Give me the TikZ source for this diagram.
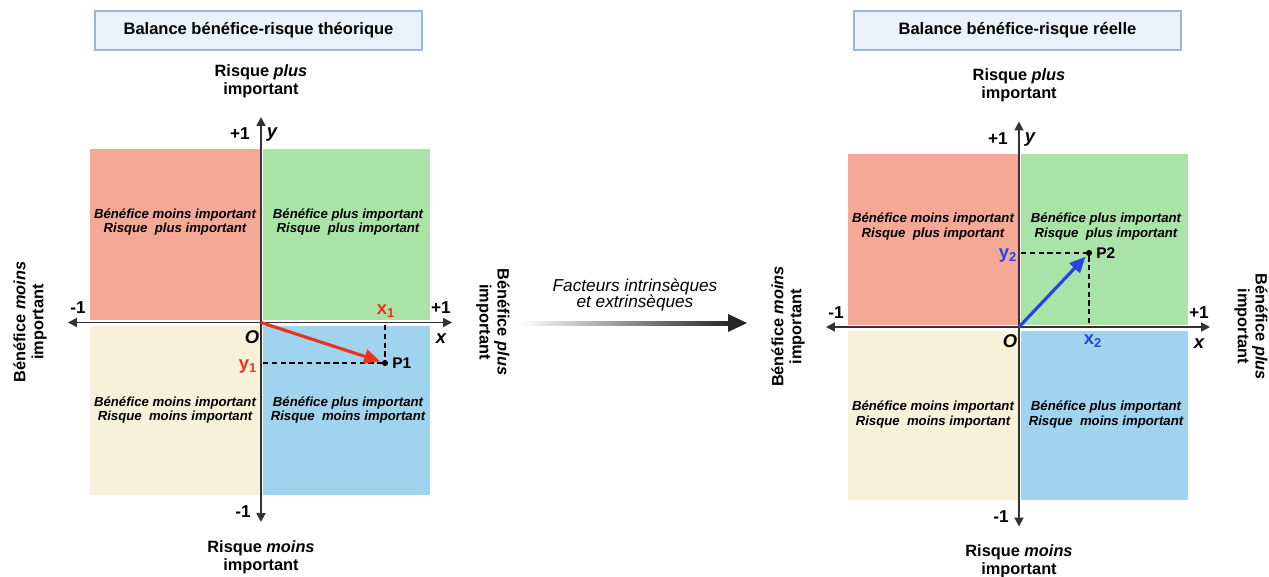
\documentclass[tikz,border=0pt]{standalone}
\usepackage{fontspec}
\setmainfont{Liberation Sans}
\usetikzlibrary{arrows.meta}
\usetikzlibrary{positioning}

\definecolor{titlefill}{HTML}{EAF2FC}
\definecolor{titleline}{HTML}{9FB4DC}
\definecolor{qred}{HTML}{F4A895}
\definecolor{qgreen}{HTML}{A9E3A8}
\definecolor{qcream}{HTML}{F8F1DA}
\definecolor{qblue}{HTML}{9FD3EE}
\definecolor{axisgrey}{HTML}{333333}
\definecolor{vecred}{HTML}{E8341C}
\definecolor{vecblue}{HTML}{2544E8}

\begin{document}
\begin{tikzpicture}[x=0.02cm,y=-0.02cm,
    titlebox/.style={draw=titleline,fill=titlefill,thick,minimum width=6.54cm,minimum height=0.78cm,
                     font=\bfseries\fontsize{9.4}{10}\selectfont},
    sidelabel/.style={align=center,font=\bfseries\fontsize{9.3}{10.2}\selectfont},
    quadtext/.style={align=center,font=\bfseries\itshape\fontsize{7.5}{8}\selectfont},
    num/.style={font=\bfseries\fontsize{9.8}{10}\selectfont,inner sep=0pt},
    axlabel/.style={font=\bfseries\itshape\fontsize{10.5}{11}\selectfont,inner sep=0pt},
    axis/.style={axisgrey,line width=1.1pt,{Triangle[length=5pt,width=5pt]}-{Triangle[length=5pt,width=5pt]}},
    guide/.style={black,densely dashed,line width=0.6pt},
    vec/.style={line width=1.8pt,-{Triangle[length=9pt,width=8pt]},shorten >=1pt},
    dot/.style={circle,fill=black,inner sep=0pt,minimum size=3.5pt},
    ptlabel/.style={font=\bfseries\fontsize{8.8}{9}\selectfont,inner sep=1pt},
    coordlabel/.style={font=\bfseries\fontsize{10.5}{11}\selectfont,inner sep=0pt}]
\useasboundingbox (0,0) rectangle (1269,576);

% titles
\node[titlebox] (titleL) at (258.5,30.5) {Balance bénéfice-risque théorique};
\node[titlebox] (titleR) at (1017.5,30.5) {Balance bénéfice-risque réelle};

% the two panels
\foreach \p/\dx/\dy in {L/0/0, R/758/4.5} {
\begin{scope}[shift={(\dx,\dy)}]
    \fill[qred] (90,149) rectangle (260,320);
    \fill[qgreen] (263,149) rectangle (430,320);
    \fill[qcream] (90,326) rectangle (260,495);
    \fill[qblue] (263,326) rectangle (430,495);

    \node[quadtext] (qa\p) at (175,222) {Bénéfice moins important\\Risque\ \ plus important};
    \node[quadtext] (qb\p) at (348,222) {Bénéfice plus important\\Risque\ \ plus important};
    \node[quadtext] (qc\p) at (175,410) {Bénéfice moins important\\Risque\ \ moins important};
    \node[quadtext] (qd\p) at (348,410) {Bénéfice plus important\\Risque\ \ moins important};

    \coordinate (o\p) at (261,322.5);
    \coordinate (xl\p) at (68,322.5);
    \coordinate (xr\p) at (452,322.5);
    \coordinate (yt\p) at (261,117);
    \coordinate (yb\p) at (261,522);
    \draw[axis] (xl\p) -- (xr\p);
    \draw[axis] (yb\p) -- (yt\p);

    \node[num] (mx\p) at (78,308) {-1};
    \node[num] (px\p) at (441,308) {+1};
    \node[num] (py\p) at (240,134) {+1};
    \node[num] (my\p) at (243,512) {-1};
    \node[axlabel] (origin\p) at (252,337) {O};
    \node[axlabel] (xname\p) at (441,339) {x};
    \node[axlabel] (yname\p) at (272,135) {y};

    \node[sidelabel] (top\p) at (261,81) {Risque \textit{plus}\\important};
    \node[sidelabel] (bot\p) at (261,557) {Risque \textit{moins}\\important};
    \node[sidelabel,rotate=90] (left\p) at (30,322) {Bénéfice \textit{moins}\\important};
    \node[sidelabel,rotate=-90] (right\p) at (493,322) {Bénéfice \textit{plus}\\important};
\end{scope}
}

% point P1
\node[dot] (p1) at (385,363) {};
\node[ptlabel,right=1pt of p1] (p1lab) {P1};
\coordinate (x1foot) at (385,325);
\coordinate (y1foot) at (263,363);
\draw[guide] (x1foot) -- (p1);
\draw[guide] (y1foot) -- (p1);
\draw[vec,vecred] (oL) -- (p1);
\node[coordlabel,text=vecred] (x1) at (386,311) {x\textsubscript{1}};
\node[coordlabel,text=vecred] (y1) at (248,367) {y\textsubscript{1}};

% point P2
\node[dot] (p2) at (1089,253) {};
\node[ptlabel,right=1pt of p2] (p2lab) {P2};
\coordinate (x2foot) at (1089,325);
\coordinate (y2foot) at (1021,253);
\draw[guide] (p2) -- (x2foot);
\draw[guide] (y2foot) -- (p2);
\draw[vec,vecblue] (oR) -- (p2);
\node[coordlabel,text=vecblue] (x2) at (1093,341) {x\textsubscript{2}};
\node[coordlabel,text=vecblue] (y2) at (1008,256) {y\textsubscript{2}};

% transition arrow
\node[align=center,font=\itshape\fontsize{9.8}{9.6}\selectfont] (facteurs) at (635,295)
    {Facteurs intrinsèques\\et extrinsèques};
\coordinate (fs) at (520,323);
\coordinate (fe) at (728,323);
\shade[left color=white,right color=black!85] (fs) ++(0,-2) rectangle ++(209,4);
\fill[black!85] (fe) ++(0,-9) -- ++(19,9) -- ++(-19,9) -- cycle;
\end{tikzpicture}
\end{document}
